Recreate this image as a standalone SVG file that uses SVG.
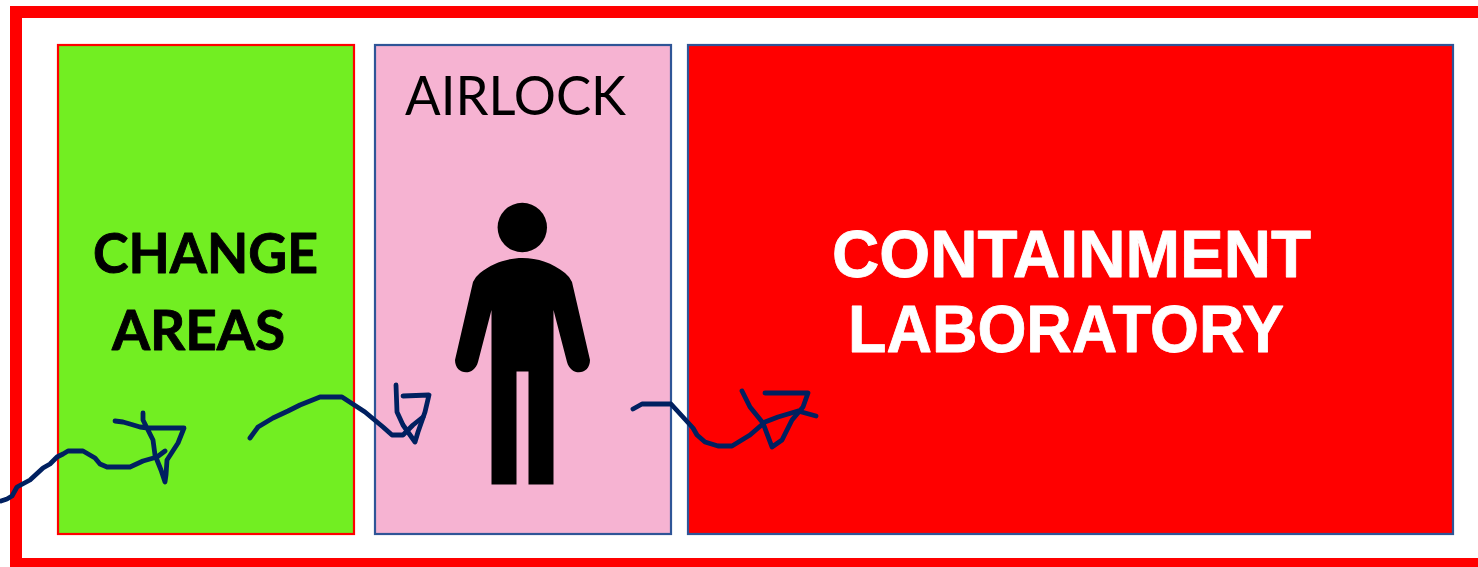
<svg xmlns="http://www.w3.org/2000/svg" width="1478" height="567" viewBox="0 0 1478 567">
<style>
.ink{fill:none;stroke:#002060;stroke-width:4.8;stroke-linecap:round;stroke-linejoin:round}
.lbl{font-family:Lato,"Open Sans","Liberation Sans",sans-serif}
.b{font-weight:700;font-size:55px;stroke:#000;stroke-width:.9;stroke-linejoin:round}
.w{font-family:"Liberation Sans",Arial,sans-serif;font-weight:700;font-size:66px;fill:#fff;stroke:#fff;stroke-width:.8;stroke-linejoin:round}
.blue{stroke:#2f5597;stroke-width:2.2}
</style>
<rect width="1478" height="567" fill="#fff"/>
<g id="outer-wall"><path d="M1478 12H16V564H1478" fill="none" stroke="#f00" stroke-width="12"/></g>
<g id="change-areas">
<rect x="58" y="45" width="296" height="489" fill="#72ee22" stroke="#f00" stroke-width="2.200"/>
<text class="lbl b" x="93" y="273" textLength="225" lengthAdjust="spacingAndGlyphs">CHANGE</text>
<text class="lbl b" x="112" y="350" textLength="173" lengthAdjust="spacingAndGlyphs">AREAS</text>
</g>
<g id="airlock">
<rect class="blue" x="375" y="45" width="296" height="489" fill="#f6b3d2"/>
<text class="lbl" x="405" y="115" font-size="55" textLength="221" lengthAdjust="spacingAndGlyphs">AIRLOCK</text>
<circle cx="522.300" cy="227.500" r="24.700"/>
<path d="M491.500 484.500V310L478 362C474 377 455 375 455 360L473 282Q475 277 480 273C505 253 540 253 565 273Q570 277 572 282L590 360C590 375 571 377 567 362L553.500 310V484.500H528.500V371.500H516.500V484.500Z"/>
</g>
<g id="containment-laboratory">
<rect class="blue" x="688" y="45" width="765" height="489" fill="#f00"/>
<text class="w" x="832" y="276.500" textLength="479" lengthAdjust="spacingAndGlyphs">CONTAINMENT</text>
<text class="w" x="848" y="352" textLength="436" lengthAdjust="spacingAndGlyphs">LABORATORY</text>
</g>
<g id="connectors">
<path class="ink" d="M1 501L7 499L12 496L17 487L30 480L43 468L50 464L57 457L63 454L68 451H83L95 458L100 464L107 467H130L143 461L157 457L165 451"/>
<path class="ink" d="M115 421L123 422L130 424L140 427L148 428H184L178 443L167 460L166 475L165 482L161 470L155 455L153 440L148 430L143 420L143 413"/>
<path class="ink" d="M250 438L258 427L273 418L288 411L300 405L320 397H342L365 412L383 427L392 435H403L413 425L423 417"/>
<path class="ink" d="M396 385L397 412L403 425L415 442L418 432L425 412L429 395L403 396"/>
<path class="ink" d="M633 409L642 404H671L693 428L697 435L705 442L718 446H732L750 435L765 422L778 417L798 411L816 416"/>
<path class="ink" d="M742 391L750 407L763 423L772 447L782 440L792 420L803 407L808 393H765"/>
</g>
</svg>
